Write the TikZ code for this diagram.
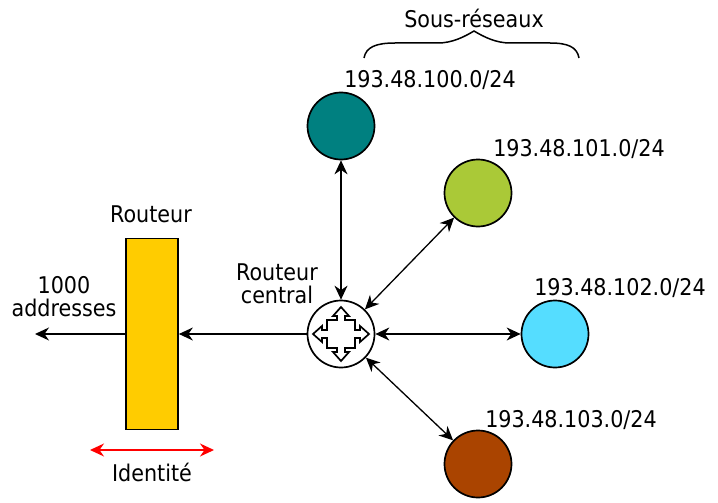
\documentclass[tikz,border=0pt]{standalone}
\usepackage{fontspec}
\setmainfont{DejaVu Sans Condensed}
\usepackage{xcolor}
\definecolor{Col1}{RGB}{0,128,128}
\definecolor{Col2}{RGB}{170,201,55}
\definecolor{Col3}{RGB}{85,221,255}
\definecolor{Col4}{RGB}{170,68,0}
\definecolor{Col5}{RGB}{255,204,0}
\usetikzlibrary{arrows.meta}
\tikzstyle{Subnet}=[circle,draw=black,line width=1.7pt,minimum size=67pt,inner sep=0pt]
\tikzstyle{Edge}=[draw=black,line width=1.3pt,
{Stealth[length=14pt,width=13pt,inset=4.5pt]}-{Stealth[length=14pt,width=13pt,inset=4.5pt]}]
\tikzstyle{EdgeL}=[draw=black,line width=1.3pt,
{Stealth[length=14pt,width=13pt,inset=4.5pt]}-]
\tikzstyle{EdgeI}=[draw=red,line width=1.3pt,
{Stealth[length=14pt,width=13pt,inset=4.5pt]}-{Stealth[length=14pt,width=13pt,inset=4.5pt]}]
\tikzstyle{Label}=[inner sep=0pt,font=\fontsize{23}{23}\selectfont,align=center]
\begin{document}
\begin{tikzpicture}[x=1pt,y=-1pt]
            \useasboundingbox(0,0)rectangle(718,503);
            \node[Subnet,fill=white](r)at(341,334){};
            \node[Subnet,fill=Col1](s0)at(341,126){};
            \node[Subnet,fill=Col2](s1)at(478,193){};
            \node[Subnet,fill=Col3](s2)at(555,334){};
            \node[Subnet,fill=Col4](s3)at(478,464){};
            \node[draw=black,line width=1.7pt,fill=Col5,minimum width=52pt,
                minimum height=191pt,inner sep=0pt](b)at(152,334){};
            \coordinate(o)at(35,334);
            \coordinate(i0)at(90,450);
            \coordinate(i1)at(214,450);
            \draw[Edge](s0)--(r);
            \draw[Edge](s1)--(r);
            \draw[Edge](s2)--(r);
            \draw[Edge](s3)--(r);
            \draw[EdgeL](b)--(r);
            \draw[EdgeL](o)--(b);
            \draw[EdgeI](i0)--(i1);
            %
            \draw[line width=1.7pt,line join=miter,shift={(r.center)}]
                (0,-27)--(8,-18)--(4,-18)--(4,-14)--(14,-14)--(14,-4)--(19,-4)
                --(19,-8)--(28,0)--(19,8)--(19,4)--(14,4)--(14,14)--(4,14)
                --(4,18)--(8,18)--(0,27)--(-8,18)--(-4,18)--(-4,14)--(-14,14)
                --(-14,4)--(-19,4)--(-19,8)--(-28,0)--(-19,-8)--(-19,-4)
                --(-14,-4)--(-14,-14)--(-4,-14)--(-4,-18)--(-8,-18)--cycle;
            %
            \draw[line width=1.5pt](364,58)..controls(366,47)and(376,43)..(395,43)
                --(438,43)..controls(452,43)and(464,37)..(474,31)
                ..controls(484,37)and(496,43)..(510,43)
                --(550,43)..controls(568,43)and(577,47)..(579,58);
            %
            \node[Label](t)at(474,18){Sous-réseaux};
            \node[Label](l0)at(430,80){193.48.100.0/24};
            \node[Label](l1)at(579,149){193.48.101.0/24};
            \node[Label](l2)at(620,288){193.48.102.0/24};
            \node[Label](l3)at(571,420){193.48.103.0/24};
            \node[Label](lr)at(277,284){Routeur\\central};
            \node[Label](lb)at(151,214){Routeur};
            \node[Label](la)at(64,297){1000\\addresses};
            \node[Label](li)at(152,472){Identité};
        \end{tikzpicture}
\end{document}
